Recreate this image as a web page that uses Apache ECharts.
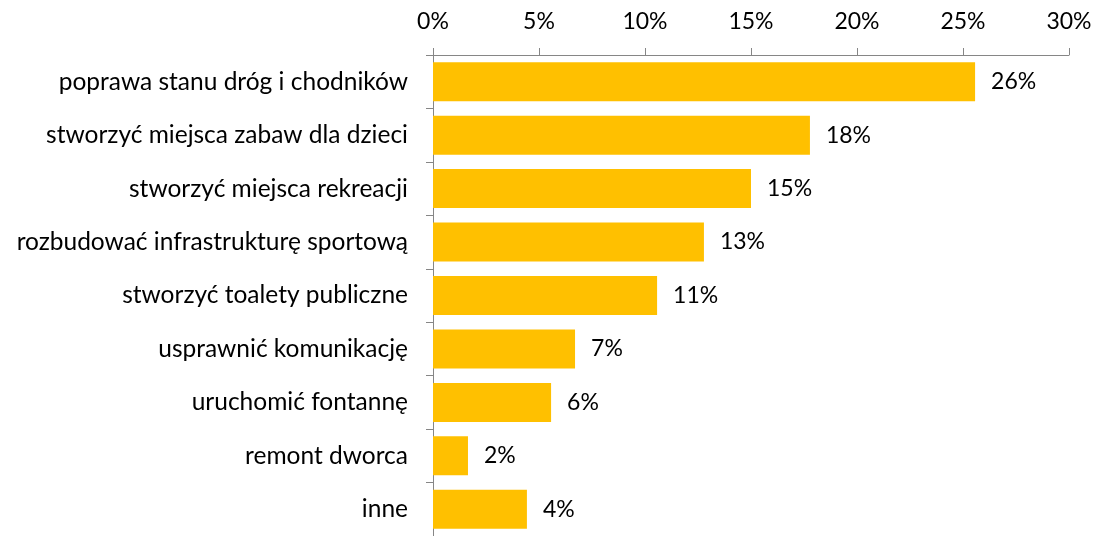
<!DOCTYPE html>
<html>
<head>
<meta charset="utf-8">
<script src="https://cdn.jsdelivr.net/npm/echarts@6/dist/echarts.min.js"></script>
<style>
html, body { margin: 0; padding: 0; background: #fff; }
#chart { width: 1095px; height: 536px; }
</style>
</head>
<body>
<div id="chart"></div>
<script>
var categories = [
    'poprawa stanu dróg i chodników',
    'stworzyć miejsca zabaw dla dzieci',
    'stworzyć miejsca rekreacji',
    'rozbudować infrastrukturę sportową',
    'stworzyć toalety publiczne',
    'usprawnić komunikację',
    'uruchomić fontannę',
    'remont dworca',
    'inne'
];
var values = [25.57, 17.78, 15.0, 12.78, 10.57, 6.7, 5.57, 1.65, 4.43];
var tickLabels = ['0%', '5%', '10%', '15%', '20%', '25%', '30%'];

var textStyle = {
    color: '#000',
    fontFamily: 'Lato',
    fontSize: 23
};

var chart = echarts.init(document.getElementById('chart'));
var option = {
    backgroundColor: '#fff',
    animation: false,
    grid: { left: 433, right: 26, top: 55, bottom: -1, containLabel: false },
    xAxis: {
        type: 'value',
        position: 'top',
        min: 0,
        max: 30,
        interval: 5,
        splitLine: { show: false },
        axisLine: { show: true, lineStyle: { color: '#868686' } },
        axisTick: { show: true, inside: false, length: 7, lineStyle: { color: '#868686' } },
        axisLabel: {
            margin: 22,
            color: textStyle.color,
            fontFamily: textStyle.fontFamily,
            fontSize: textStyle.fontSize,
            formatter: function (v) { return tickLabels[Math.round(v / 5)]; }
        }
    },
    yAxis: {
        type: 'category',
        inverse: true,
        data: categories,
        axisLine: { show: true, lineStyle: { color: '#868686' } },
        axisTick: { show: true, length: 7, lineStyle: { color: '#868686' } },
        axisLabel: {
            margin: 25,
            color: textStyle.color,
            fontFamily: textStyle.fontFamily,
            fontSize: 24.5
        }
    },
    series: [{
        type: 'bar',
        data: values,
        barCategoryGap: '27%',
        itemStyle: { color: '#FFC000' },
        label: {
            show: true,
            position: 'right',
            distance: 16,
            color: textStyle.color,
            fontFamily: textStyle.fontFamily,
            fontSize: textStyle.fontSize,
            formatter: function (p) { return Math.round(p.value) + '%'; }
        }
    }]
};
chart.setOption(option);
</script>
</body>
</html>
